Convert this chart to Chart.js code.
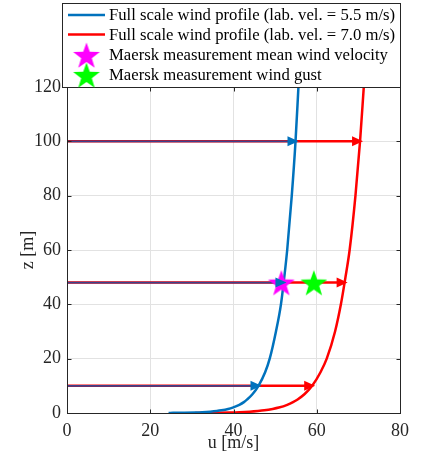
<!DOCTYPE html>
<html>
<head>
<meta charset="utf-8">
<script src="https://cdn.jsdelivr.net/npm/chart.js@4"></script>
<style>
  html, body { margin: 0; padding: 0; background: #fff; }
  #wrap { position: relative; width: 423px; height: 459px; }
</style>
</head>
<body>
<div id="wrap"><canvas id="chart" width="423" height="459"></canvas></div>
<script>
const profileZ = [0, 0.05, 0.1, 0.2, 0.3, 0.5, 0.75, 1, 1.5, 2, 3, 4, 5, 7, 10, 15, 20, 30, 40, 50, 60, 80, 100, 120];
// Full scale profile, lab. vel. = 5.5 m/s
const blueProfileU = [24.4, 25.5, 28.2, 30.9, 32.5, 34.4, 36.0, 37.1, 38.7, 39.8, 41.4, 42.5, 43.3, 44.6, 46.0, 47.6, 48.7, 50.2, 51.4, 52.2, 52.9, 54.0, 54.9, 55.6];
// Full scale profile, lab. vel. = 7.0 m/s
const redProfileU = [30.8, 32.4, 35.9, 39.3, 41.4, 43.9, 45.9, 47.4, 49.4, 50.9, 52.9, 54.3, 55.4, 57.1, 58.9, 60.9, 62.4, 64.4, 65.8, 66.9, 67.9, 69.3, 70.4, 71.3];

// Horizontal arrows from the axis to each profile
const arrowZ = [10, 48, 100];
const blueArrowU = [46.0, 52.0, 54.9];
const redArrowU = [58.9, 66.7, 70.4];

// Maersk measurements
const starZ = [48];
const meanWindU = [51.5];
const gustWindU = [59.3];

const xTicks = [0, 20, 40, 60, 80];
const yTicks = [0, 20, 40, 60, 80, 100, 120];

const legendLabels = [
  "Full scale wind profile (lab. vel. = 5.5 m/s)",
  "Full scale wind profile (lab. vel. = 7.0 m/s)",
  "Maersk measurement mean wind velocity",
  "Maersk measurement wind gust",
];

const BLUE = "#0072BD";
const RED = "#FF0000";
const MAGENTA = "#FF00FF";
const GREEN = "#00FF00";
const AXIS = "#262626";
const FONT = '"Liberation Serif", "Times New Roman", serif';

// filled five point star as a point style
function makeStar(color, r) {
  const c = document.createElement("canvas");
  const size = Math.ceil(r * 2 + 2);
  c.width = size;
  c.height = size;
  const g = c.getContext("2d");
  const cx = size / 2, cy = size / 2 + r * 0.1;
  const inner = r * 0.4;
  g.beginPath();
  for (let i = 0; i < 10; i++) {
    const rr = i % 2 === 0 ? r : inner;
    const a = -Math.PI / 2 + (i * Math.PI) / 5;
    const px = cx + rr * Math.cos(a), py = cy + rr * Math.sin(a);
    if (i === 0) g.moveTo(px, py); else g.lineTo(px, py);
  }
  g.closePath();
  g.fillStyle = color;
  g.fill();
  return c;
}
const magentaStar = makeStar(MAGENTA, 14);
const greenStar = makeStar(GREEN, 14);

const toPoints = (us, zs) => us.map((u, i) => ({ x: u, y: zs[i] }));

const datasets = [];

// red arrows go underneath the blue ones
arrowZ.forEach((z, i) => {
  datasets.push({
    data: [{ x: 0, y: z }, { x: redArrowU[i], y: z }],
    borderColor: RED, borderWidth: 2.5, pointRadius: 0,
    showLine: true, arrow: RED, order: 6,
  });
});
arrowZ.forEach((z, i) => {
  datasets.push({
    data: [{ x: 0, y: z }, { x: blueArrowU[i], y: z }],
    borderColor: "#3a428c", borderWidth: 1.6, pointRadius: 0,
    showLine: true, arrow: BLUE, order: 5,
  });
});
datasets.push({
  data: toPoints(redProfileU, profileZ),
  borderColor: RED, borderWidth: 2.5, pointRadius: 0, showLine: true,
  cubicInterpolationMode: "monotone", order: 4,
});
datasets.push({
  data: toPoints(blueProfileU, profileZ),
  borderColor: BLUE, borderWidth: 2.5, pointRadius: 0, showLine: true,
  cubicInterpolationMode: "monotone", order: 3,
});
datasets.push({
  data: toPoints(meanWindU, starZ),
  pointStyle: magentaStar, pointRadius: 14, showLine: false, order: 2,
});
datasets.push({
  data: toPoints(gustWindU, starZ),
  pointStyle: greenStar, pointRadius: 14, showLine: false, order: 1,
});

// arrow heads at the end of each arrow line (tip pokes a little past the curve)
const arrowHeads = {
  id: "arrowHeads",
  afterDatasetsDraw(chart) {
    const ctx = chart.ctx;
    chart.data.datasets.forEach((ds, i) => {
      if (!ds.arrow) return;
      const pts = chart.getDatasetMeta(i).data;
      const end = pts[pts.length - 1];
      ctx.save();
      ctx.fillStyle = ds.arrow;
      ctx.beginPath();
      ctx.moveTo(end.x + 3, end.y);
      ctx.lineTo(end.x - 8, end.y - 5);
      ctx.lineTo(end.x - 8, end.y + 5);
      ctx.closePath();
      ctx.fill();
      ctx.restore();
    });
  },
};

// box around the axes with inward ticks, like matlab
const frame = {
  id: "frame",
  afterDatasetsDraw(chart) {
    const { ctx, chartArea: a, scales } = chart;
    const L = Math.round(a.left) + 0.5, R = Math.round(a.right) + 0.5;
    const T = Math.round(a.top) + 0.5, B = Math.round(a.bottom) + 0.5;
    ctx.save();
    ctx.strokeStyle = AXIS;
    ctx.lineWidth = 1;
    ctx.strokeRect(L, T, R - L, B - T);
    ctx.beginPath();
    xTicks.forEach((v) => {
      const x = Math.round(scales.x.getPixelForValue(v)) + 0.5;
      ctx.moveTo(x, B); ctx.lineTo(x, B - 4);
      ctx.moveTo(x, T); ctx.lineTo(x, T + 4);
    });
    yTicks.forEach((v) => {
      const y = Math.round(scales.y.getPixelForValue(v)) + 0.5;
      ctx.moveTo(L, y); ctx.lineTo(L + 4, y);
      ctx.moveTo(R, y); ctx.lineTo(R - 4, y);
    });
    ctx.stroke();
    ctx.restore();
  },
};

// boxed legend sitting on top of the axes
const boxLegend = {
  id: "boxLegend",
  afterDraw(chart) {
    const ctx = chart.ctx;
    const rows = [15, 34.5, 55, 75];
    ctx.save();
    ctx.fillStyle = "#fff";
    ctx.fillRect(62.5, 3.5, 338, 84);
    ctx.strokeStyle = AXIS;
    ctx.lineWidth = 1;
    ctx.strokeRect(62.5, 3.5, 338, 84);

    ctx.lineWidth = 2.5;
    [BLUE, RED].forEach((c, i) => {
      ctx.strokeStyle = c;
      ctx.beginPath();
      ctx.moveTo(68, rows[i]);
      ctx.lineTo(105, rows[i]);
      ctx.stroke();
    });
    [magentaStar, greenStar].forEach((img, i) => {
      ctx.drawImage(img, 86.5 - img.width / 2, rows[i + 2] - img.height / 2);
    });

    ctx.fillStyle = "#000";
    ctx.font = "16.7px " + FONT;
    ctx.textBaseline = "middle";
    ctx.textAlign = "left";
    legendLabels.forEach((t, i) => ctx.fillText(t, 109, rows[i] + 1));
    ctx.restore();
  },
};

new Chart(document.getElementById("chart"), {
  type: "scatter",
  data: { datasets },
  options: {
    responsive: false,
    animation: false,
    layout: { padding: { top: 87, right: 23, left: 0, bottom: 0 } },
    plugins: { legend: { display: false }, tooltip: { enabled: false } },
    scales: {
      x: {
        type: "linear", min: 0, max: 80,
        afterBuildTicks: (s) => { s.ticks = xTicks.map((v) => ({ value: v })); },
        afterFit: (s) => { s.height = 46; },
        grid: { color: "#e2e2e2", drawTicks: false },
        border: { display: false },
        ticks: { color: AXIS, font: { family: FONT, size: 18 }, padding: 7, maxRotation: 0 },
        title: { display: true, text: "u [m/s]", color: AXIS, font: { family: FONT, size: 18 }, padding: { bottom: 5 } },
      },
      y: {
        type: "linear", min: 0, max: 120,
        afterBuildTicks: (s) => { s.ticks = yTicks.map((v) => ({ value: v })); },
        afterFit: (s) => { s.width = 67; },
        grid: { color: "#e2e2e2", drawTicks: false },
        border: { display: false },
        ticks: { color: AXIS, font: { family: FONT, size: 18 }, padding: 6 },
        title: { display: true, text: "z [m]", color: AXIS, font: { family: FONT, size: 18 }, padding: { top: 17 } },
      },
    },
  },
  plugins: [arrowHeads, frame, boxLegend],
});
</script>
</body>
</html>
